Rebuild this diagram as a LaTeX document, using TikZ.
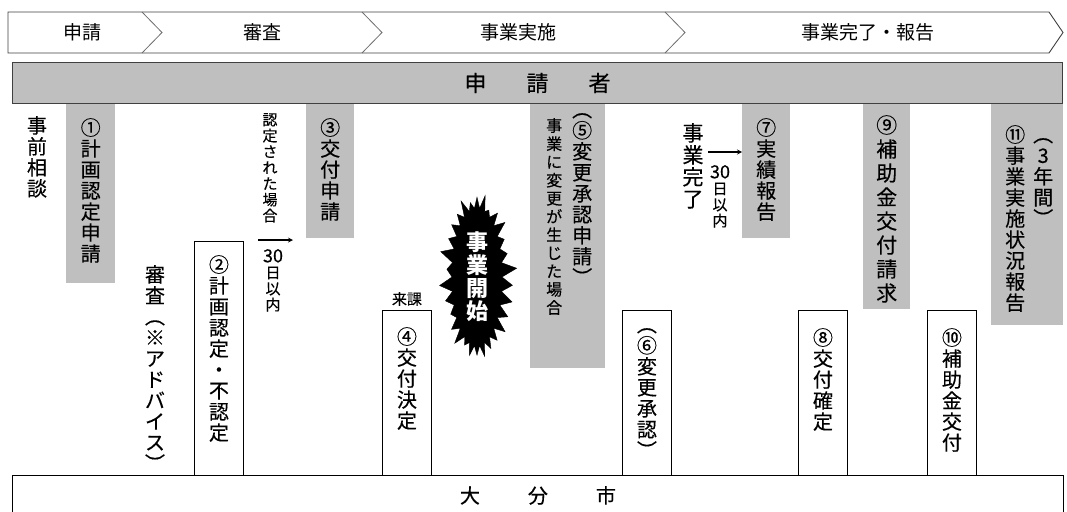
\documentclass[tikz,border=0pt]{standalone}
\usepackage{fontspec}
\setmainfont{Noto Sans CJK JP}
\newfontfamily\tatefamily{Noto Sans CJK JP}[FakeBold=0.3]
\usepackage{tikz}
\usetikzlibrary{arrows,shapes,shapes.symbols,positioning}
\usepackage{xcolor}
\definecolor{ofgray}{RGB}{191,191,191}
\definecolor{ofdark}{RGB}{64,64,64}
\definecolor{ofline}{RGB}{110,110,110}
\tikzstyle{request} = [rectangle, anchor=north west, inner sep=0pt, fill=ofgray]
\tikzstyle{decision} = [rectangle, anchor=north west, inner sep=0pt, draw=black, fill=white, line width=0.9pt]
\tikzstyle{tate} = [align=center, anchor=north, inner sep=0pt, font={\tatefamily\fontsize{20}{21}\selectfont}]
\tikzstyle{tatesmall} = [tate, font={\tatefamily\fontsize{15}{16}\selectfont}]
\tikzstyle{stage} = [font={\fontsize{19}{20}\selectfont}]
\tikzstyle{arrow} = [line width=1.2pt,->,>=stealth]
\newcommand{\num}[1]{{\fontsize{18}{16}\selectfont #1}}

\begin{document}
\begin{tikzpicture}[x=1pt, y=-1pt]
\useasboundingbox (0,0) rectangle (1067,511);
% Stages
\draw[ofdark, line width=0.9pt, fill=white] (8,12) -- (1049,12) -- (1063,32.5) -- (1049,53) -- (8,53) -- cycle;
\foreach \cx in {142,362,665}
  \draw[ofline, line width=0.8pt] (\cx,12) -- (\cx+20,32.5) -- (\cx,53);
\node (stage1) [stage] at (82,32.5) {申請};
\node (stage2) [stage] at (262,32.5) {審査};
\node (stage3) [stage] at (518,32.5) {事業実施};
\node (stage4) [stage] at (868,32.5) {事業完了・報告};

% Applicant side
\node (g1) [request, minimum width=49pt, minimum height=180pt] at (66,103) {};
\node (g3) [request, minimum width=48pt, minimum height=135pt] at (306,103) {};
\node (g5) [request, minimum width=75pt, minimum height=265pt] at (530,103) {};
\node (g7) [request, minimum width=48pt, minimum height=135pt] at (742,103) {};
\node (g9) [request, minimum width=47pt, minimum height=206pt] at (863,103) {};
\node (g11) [request, minimum width=72pt, minimum height=222pt] at (991,103) {};
\node (applicant) [request, draw=ofdark, line width=0.9pt, minimum width=1050pt, minimum height=41pt, font={\tatefamily\fontsize{22}{24}\selectfont}] at (12,62) {申\hspace{40pt}請\hspace{40pt}者};

\node (t1) [tate, below=15pt of g1.north] {①\\計\\画\\認\\定\\申\\請};
\node (t3) [tate, below=15pt of g3.north] {③\\交\\付\\申\\請};
\node (t5a) [tate, below=10pt of g5.north, xshift=14.5pt] {︵\\⑤\\変\\更\\承\\認\\申\\請\\︶};
\node (t5b) [tate, font={\tatefamily\fontsize{16}{18.2}\selectfont}, below=15pt of g5.north, xshift=-13.5pt] {事\\業\\に\\変\\更\\が\\生\\じ\\た\\場\\合};
\node (t7) [tate, below=15pt of g7.north] {⑦\\実\\績\\報\\告};
\node (t9) [tate, font={\tatefamily\fontsize{21}{24}\selectfont}, below=12pt of g9.north] {⑨\\補\\助\\金\\交\\付\\請\\求};
\node (t11a) [tate, below=22pt of g11.north, xshift=-12pt] {⑪\\事\\業\\実\\施\\状\\況\\報\\告};
\node (t11b) [tate, below=35pt of g11.north, xshift=16pt] {︵\\3\\年\\間\\︶};

% City side
\node (city) [decision, minimum width=1051pt, minimum height=40pt, font={\tatefamily\fontsize{20}{22}\selectfont}] at (12,475) {大\hspace{48pt}分\hspace{48pt}市};
\node (w2) [decision, minimum width=49pt, minimum height=234pt] at (194,241) {};
\node (w4) [decision, minimum width=49pt, minimum height=165pt] at (382,310) {};
\node (w6) [decision, minimum width=49pt, minimum height=165pt] at (622,310) {};
\node (w8) [decision, minimum width=49pt, minimum height=165pt] at (798,310) {};
\node (w10) [decision, minimum width=49pt, minimum height=165pt] at (927,310) {};

\node (t2) [tate, below=14pt of w2.north] {②\\計\\画\\認\\定\\・\\不\\認\\定};
\node (t4) [tate, below=17pt of w4.north] {④\\交\\付\\決\\定};
\node (t6) [tate, below=18pt of w6.north] {︵\\⑥\\変\\更\\承\\認\\︶};
\node (t8) [tate, below=18pt of w8.north] {⑧\\交\\付\\確\\定};
\node (t10) [tate, below=18pt of w10.north] {⑩\\補\\助\\金\\交\\付};

% Notes
\node (pre) [tate] at (37,116) {事\\前\\相\\談};
\node (adv) [tate] at (155,265) {審\\査\\︵\\※\\ア\\ド\\バ\\イ\\ス\\︶};
\node (nintei) [tatesmall] at (270,113) {認\\定\\さ\\れ\\た\\場\\合};
\node (raika) [tatesmall, above=4pt of w4] {来課};
\node (kanryo) [tate, font={\tatefamily\fontsize{21}{22}\selectfont}] at (693,123) {事\\業\\完\\了};
\node (start) [starburst, fill=black, draw=black, starburst points=30, starburst point height=15pt, minimum width=80pt, minimum height=168pt, inner sep=0pt, align=center, text=white, font={\bfseries\fontsize{22}{23}\selectfont}] at (477,277) {事\\業\\開\\始};

% Arrows
\coordinate (a1s) at (258,240);
\coordinate (a1e) at (293,240);
\coordinate (a2s) at (708,152);
\draw[arrow] (a1s) -- (a1e);
\draw[arrow] (a2s) -- (a2s -| g7.west);
\node (limit1) [tatesmall, below=9pt of a1s, xshift=15pt] {\num{30}\\日\\以\\内};
\node (limit2) [tatesmall, below=13pt of a2s, xshift=12pt] {\num{30}\\日\\以\\内};
\end{tikzpicture}
\end{document}
